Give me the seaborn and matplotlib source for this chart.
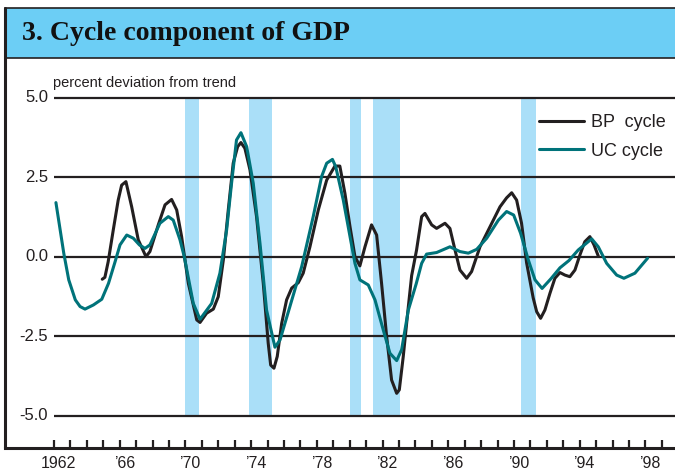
import pandas as pd
import seaborn as sns
import matplotlib.pyplot as plt
import matplotlib.patches as mpatches
from matplotlib.transforms import ScaledTranslation

# BP cycle (band-pass filter)
bp_year = [1964.94, 1965.1, 1965.3, 1965.61, 1965.91, 1966.12, 1966.38, 1966.73, 1967.13, 1967.6,
           1967.84, 1968.35, 1968.76, 1969.16, 1969.47, 1969.77, 1970.18, 1970.69, 1970.89, 1971.29,
           1971.7, 1972.0, 1972.31, 1972.61, 1972.91, 1973.18, 1973.38, 1973.62, 1973.93, 1974.33,
           1974.74, 1975.04, 1975.19, 1975.39, 1975.59, 1975.86, 1976.16, 1976.47, 1976.87, 1977.17,
           1977.58, 1978.09, 1978.6, 1979.1, 1979.4, 1979.71, 1980.02, 1980.32, 1980.62, 1980.93,
           1981.33, 1981.64, 1981.94, 1982.25, 1982.55, 1982.86, 1983.02, 1983.26, 1983.57, 1983.77,
           1984.07, 1984.38, 1984.58, 1984.99, 1985.29, 1985.8, 1986.1, 1986.41, 1986.71, 1987.12,
           1987.42, 1987.93, 1988.54, 1989.15, 1989.55, 1989.86, 1990.16, 1990.46, 1990.77, 1991.17,
           1991.38, 1991.62, 1991.88, 1992.19, 1992.49, 1992.8, 1993.1, 1993.4, 1993.71, 1994.01,
           1994.31, 1994.62, 1994.87, 1995.13]
bp_value = [-0.71, -0.65, -0.16, 0.84, 1.78, 2.25, 2.36, 1.57, 0.53, 0.00,
            0.16, 1.00, 1.63, 1.80, 1.47, 0.63, -0.84, -1.99, -2.07, -1.78,
            -1.65, -1.26, -0.10, 1.47, 2.94, 3.46, 3.59, 3.41, 2.73, 1.26,
            -0.84, -2.72, -3.41, -3.51, -3.14, -2.10, -1.36, -0.99, -0.82, -0.52,
            0.31, 1.47, 2.41, 2.85, 2.85, 1.99, 0.94, 0.00, -0.29, 0.31,
            1.00, 0.68, -0.84, -2.52, -3.88, -4.30, -4.19, -3.14, -1.57, -0.60,
            0.21, 1.26, 1.36, 1.00, 0.89, 1.05, 0.89, 0.21, -0.42, -0.68,
            -0.47, 0.31, 0.94, 1.57, 1.85, 2.01, 1.78, 1.05, -0.20, -1.30,
            -1.73, -1.94, -1.68, -1.15, -0.68, -0.50, -0.58, -0.63, -0.42, 0.05,
            0.47, 0.63, 0.37, 0.02]

# UC cycle (unobserved components)
uc_year = [1962.12, 1962.6, 1962.9, 1963.3, 1963.59, 1963.89, 1964.4, 1964.91, 1965.32, 1965.72,
           1966.02, 1966.43, 1966.83, 1967.2, 1967.54, 1967.84, 1968.45, 1968.96, 1969.26, 1969.67,
           1969.93, 1970.48, 1970.89, 1971.6, 1972.1, 1972.51, 1972.81, 1973.11, 1973.38, 1973.73,
           1974.13, 1974.54, 1974.94, 1975.45, 1975.76, 1976.36, 1977.08, 1977.78, 1978.29, 1978.6,
           1978.95, 1979.15, 1979.61, 1980.02, 1980.32, 1980.62, 1981.13, 1981.54, 1982.04, 1982.45,
           1982.86, 1983.16, 1983.57, 1984.05, 1984.38, 1984.68, 1985.29, 1986.1, 1986.71, 1987.22,
           1987.73, 1988.34, 1989.05, 1989.55, 1989.98, 1990.4, 1990.87, 1991.28, 1991.71, 1992.24,
           1992.8, 1993.35, 1993.91, 1994.73, 1995.13, 1995.64, 1996.25, 1996.69, 1997.36, 1998.13]
uc_value = [1.70, 0.10, -0.73, -1.36, -1.57, -1.65, -1.52, -1.34, -0.84, -0.16,
            0.37, 0.68, 0.58, 0.37, 0.26, 0.37, 1.05, 1.26, 1.15, 0.53,
            0.00, -1.47, -1.97, -1.47, -0.52, 0.84, 2.31, 3.67, 3.90, 3.46,
            2.31, 0.42, -1.68, -2.85, -2.62, -1.57, -0.31, 1.26, 2.52, 2.94,
            3.06, 2.83, 1.78, 0.63, -0.21, -0.73, -0.89, -1.36, -2.30, -3.04,
            -3.27, -2.93, -1.68, -0.85, -0.21, 0.08, 0.13, 0.31, 0.16, 0.11,
            0.23, 0.58, 1.15, 1.42, 1.31, 0.74, -0.10, -0.73, -1.00, -0.70,
            -0.35, -0.12, 0.21, 0.56, 0.31, -0.21, -0.58, -0.68, -0.52, -0.05]

# recession periods (shaded)
rec_start = [1969.97, 1973.87, 1980.0, 1981.4, 1990.42]
rec_end = [1970.83, 1975.3, 1980.7, 1983.04, 1991.32]

y_ticks = [5.0, 2.5, 0.0, -2.5, -5.0]

BLACK = "#231F20"
TEAL = "#00737A"

sns.set_style("white")
plt.rcParams['font.family'] = ['Liberation Sans', 'DejaVu Sans']

W, H = 675, 471
fig = plt.figure(figsize=(W / 100, H / 100), dpi=100)
ax = fig.add_axes([5 / W, 1 - 448 / H, 670 / W, 390 / H])

# title band
band = mpatches.Rectangle((5 / W, 1 - 58 / H), 1.0, 50 / H, transform=fig.transFigure,
                          facecolor="#6CCEF5", edgecolor=BLACK, linewidth=1.2, zorder=0)
fig.patches.append(band)
fig.add_artist(plt.Line2D([5 / W, 5 / W], [1 - 448 / H, 1 - 8 / H], transform=fig.transFigure,
                          color=BLACK, lw=2.2))
fig.text(22 / W, 1 - 33 / H, "3. Cycle component of GDP", family="Liberation Serif",
         weight="bold", fontsize=20, va="center", ha="left", color="#111111")

for s, e in zip(rec_start, rec_end):
    ax.fill_betweenx([-5, 5], s, e, color="#AADFF8", lw=0, zorder=0)

ax.hlines(y_ticks, 1962, 2001, color=BLACK, lw=1.6, zorder=1)

bp = pd.DataFrame({"year": bp_year, "value": bp_value})
uc = pd.DataFrame({"year": uc_year, "value": uc_value})
sns.lineplot(data=bp, x="year", y="value", ax=ax, color=BLACK, lw=2.2, label="BP  cycle",
             zorder=3, solid_joinstyle="round")
sns.lineplot(data=uc, x="year", y="value", ax=ax, color=TEAL, lw=2.2, label="UC cycle",
             zorder=4, solid_joinstyle="round")

ax.set_xlim(1959.02, 1999.8)
ax.set_ylim(-6.02, 6.25)
ax.set_xlabel("")
ax.set_ylabel("")

for v in y_ticks:
    ax.text(1961.65, v, f"{v:.1f}", ha="right", va="center", fontsize=12, color=BLACK)
ax.set_yticks([])

years = list(range(1962, 2000))
labels = []
for y in years:
    if y == 1962:
        labels.append("1962")
    elif (y - 1962) % 4 == 0:
        labels.append("\u2019%02d" % (y % 100))
    else:
        labels.append("")
ax.set_xticks(years)
ax.set_xticklabels(labels)
ax.tick_params(axis="x", direction="in", length=6, width=1.6, color=BLACK, pad=6,
               labelsize=11.5, labelcolor=BLACK, bottom=True)
shift = ScaledTranslation(0.045, 0, fig.dpi_scale_trans)
for lab in ax.get_xticklabels():
    lab.set_transform(lab.get_transform() + shift)

sns.despine(ax=ax, top=True, right=True)
ax.spines["left"].set_visible(False)
ax.spines["bottom"].set_linewidth(2.2)
ax.spines["bottom"].set_color(BLACK)

fig.text(53 / W, 1 - 83 / H, "percent deviation from trend", fontsize=10.5, va="center",
         ha="left", color=BLACK)

ax.legend(loc="upper left", bbox_to_anchor=(539 / W, 1 - 114 / H), bbox_transform=fig.transFigure,
          frameon=False, fontsize=13, handlelength=2.5, handletextpad=0.4, labelspacing=0.65,
          borderpad=0, borderaxespad=0, labelcolor=BLACK)

fig.savefig("out.png", dpi=100)
